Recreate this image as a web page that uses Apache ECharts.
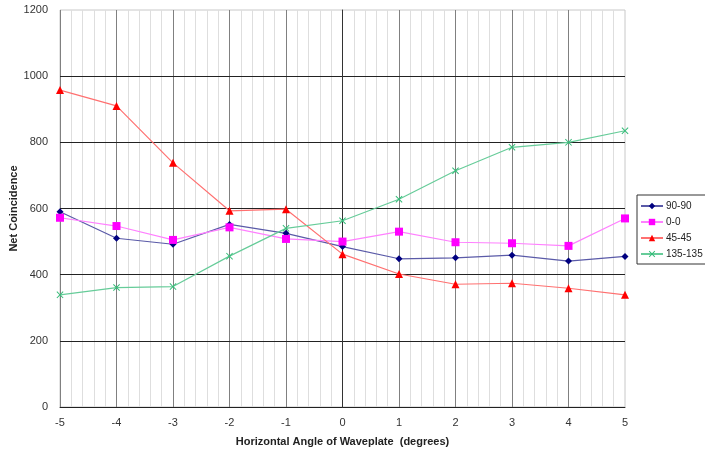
<!DOCTYPE html>
<html>
<head>
<meta charset="utf-8">
<script src="https://cdn.jsdelivr.net/npm/echarts@6/dist/echarts.min.js"></script>
<style>
  html, body { margin: 0; padding: 0; background: #fff; }
  #chart { width: 705px; height: 454px; }
</style>
</head>
<body>
<div id="chart"></div>
<script>
var angles = [-5, -4, -3, -2, -1, 0, 1, 2, 3, 4, 5]
var s9090 = [590, 510, 492, 552, 525, 485, 448, 451, 459, 441, 455]
var s00 = [572, 547, 505, 543, 508, 500, 530, 498, 495, 487, 570]
var s4545 = [958, 910, 738, 593, 598, 462, 402, 371, 374, 359, 339]
var s135135 = [339, 361, 364, 456, 540, 563, 628, 714, 785, 800, 835]

var crossPath = 'path://M0,1L1,0L5,4L9,0L10,1L6,5L10,9L9,10L5,6L1,10L0,9L4,5Z'

function pairs (vals) {
  return angles.map(function (a, i) { return [a, vals[i]] })
}

function makeSeries (name, vals, color, lineColor, symbol, size) {
  return {
    name: name,
    type: 'line',
    data: pairs(vals),
    symbol: symbol,
    symbolSize: size,
    itemStyle: { color: color },
    lineStyle: { color: lineColor, width: 1.2 },
    emphasis: { disabled: true }
  }
}

var chartDom = document.getElementById('chart')
var myChart = echarts.init(chartDom)

var font = 'Liberation Sans, Arial, sans-serif'

var option = {
  animation: false,
  backgroundColor: '#fff',
  textStyle: { fontFamily: font },
  grid: {
    left: 60, right: 80, top: 10, bottom: 47,
    containLabel: false, outerBoundsMode: 'none',
    show: true, borderColor: '#c8c8c8', borderWidth: 1
  },
  legend: {
    orient: 'vertical',
    left: 637,
    top: 195,
    borderColor: '#333',
    borderWidth: 1,
    padding: [6, 3, 5, 3],
    itemGap: 6,
    itemWidth: 22,
    itemHeight: 8,
    textStyle: { fontSize: 10, color: '#222', fontFamily: font, padding: [0, 0, 0, -2] },
    data: ['90-90', '0-0', '45-45', '135-135']
  },
  xAxis: {
    type: 'value',
    z: 0,
    min: -5,
    max: 5,
    interval: 1,
    name: 'Horizontal Angle of Waveplate  (degrees)',
    nameLocation: 'middle',
    nameGap: 29,
    nameMoveOverlap: false,
    nameTextStyle: { fontWeight: 'bold', fontSize: 11, color: '#222', fontFamily: font },
    axisLine: { lineStyle: { color: '#333' } },
    axisTick: { show: false },
    axisLabel: { fontSize: 11, color: '#333', margin: 10 },
    splitLine: { show: true, showMaxLine: false, lineStyle: { color: '#808080', width: 1 } },
    minorTick: { show: false, splitNumber: 5 },
    minorSplitLine: { show: true, lineStyle: { color: '#dedede', width: 1 } }
  },
  yAxis: {
    type: 'value',
    z: 1,
    min: 0,
    max: 1200,
    interval: 200,
    name: 'Net Coincidence',
    nameLocation: 'middle',
    nameGap: 41,
    nameMoveOverlap: false,
    nameTextStyle: { fontWeight: 'bold', fontSize: 11, color: '#222', fontFamily: font },
    axisLine: { show: true, lineStyle: { color: '#333' } },
    axisTick: { show: false },
    axisLabel: { fontSize: 11, color: '#333', margin: 12, formatter: function (v) { return String(v) } },
    splitLine: { show: true, showMaxLine: false, lineStyle: { color: '#222', width: 1 } }
  },
  series: [
    makeSeries('90-90', s9090, '#000080', '#5a5aa8', 'diamond', 7),
    makeSeries('0-0', s00, '#ff00ff', '#ff80ff', 'rect', 8),
    makeSeries('45-45', s4545, '#ff0000', '#ff7070', 'triangle', 8),
    makeSeries('135-135', s135135, '#33bb77', '#66cc99', crossPath, 7)
  ]
}

option && myChart.setOption(option)
</script>
</body>
</html>
